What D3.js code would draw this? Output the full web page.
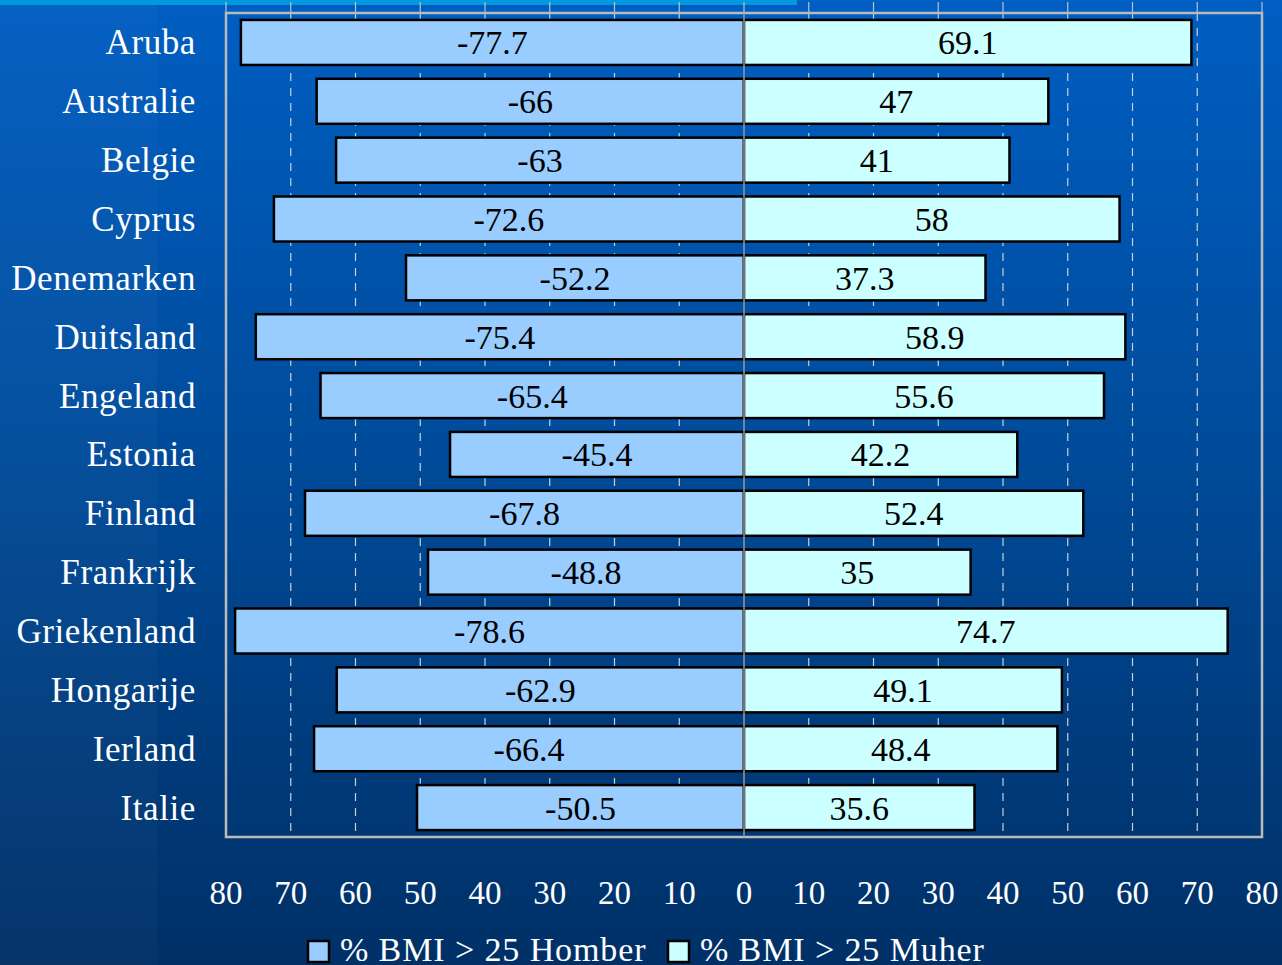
<!DOCTYPE html>
<html lang="en">
  <head>
    <meta charset="UTF-8" />
    <title>BMI &gt; 25</title>
    <style>
      body {
        margin: 0;
        overflow: hidden;
      }
      text {
        font-family: "Liberation Serif", "Times New Roman", serif;
      }
    </style>
  </head>
  <body>
    <div id="chart"></div>
    <script src="https://d3js.org/d3.v7.min.js"></script>
    <script>
      const countries = [
        "Aruba", "Australie", "Belgie", "Cyprus", "Denemarken", "Duitsland", "Engeland",
        "Estonia", "Finland", "Frankrijk", "Griekenland", "Hongarije", "Ierland", "Italie",
      ];
      const homber = [-77.7, -66, -63, -72.6, -52.2, -75.4, -65.4, -45.4, -67.8, -48.8, -78.6, -62.9, -66.4, -50.5];
      const muher = [69.1, 47, 41, 58, 37.3, 58.9, 55.6, 42.2, 52.4, 35, 74.7, 49.1, 48.4, 35.6];
      const ticks = [-80, -70, -60, -50, -40, -30, -20, -10, 0, 10, 20, 30, 40, 50, 60, 70, 80];
      const seriesNames = ["% BMI > 25 Homber", "% BMI > 25 Muher"];
      const colors = ["#99ccff", "#ccffff"];

      const width = 1282,
        height = 965;
      const plot = { left: 226, right: 1262, top: 13, bottom: 837 };

      const svg = d3
        .select("#chart")
        .append("svg")
        .attr("width", width)
        .attr("height", height);

      // background
      const defs = svg.append("defs");
      const grad = defs
        .append("linearGradient")
        .attr("id", "bg")
        .attr("x1", 0).attr("y1", 0).attr("x2", 0).attr("y2", 1);
      grad.append("stop").attr("offset", "0%").attr("stop-color", "#005ec2");
      grad.append("stop").attr("offset", "45%").attr("stop-color", "#004c9c");
      grad.append("stop").attr("offset", "100%").attr("stop-color", "#003066");

      svg.append("rect").attr("width", width).attr("height", height).attr("fill", "url(#bg)");
      svg.append("rect").attr("width", 157).attr("height", height).attr("fill", "#ffffff").attr("opacity", 0.025);
      svg.append("rect").attr("width", 797).attr("height", 5).attr("fill", "#0099dd");

      const x = d3.scaleLinear().domain([-80, 80]).range([plot.left, plot.right]);
      const y = d3
        .scaleBand()
        .domain(countries)
        .range([plot.top, plot.bottom])
        .paddingInner(0.235)
        .paddingOuter(0.1175);

      // gridlines
      svg
        .selectAll(".gridtop")
        .data(ticks)
        .enter()
        .append("line")
        .attr("x1", (d) => x(d))
        .attr("x2", (d) => x(d))
        .attr("y1", 2)
        .attr("y2", plot.top)
        .style("stroke", "#b8c4d0")
        .style("stroke-width", 1.2);

      svg
        .selectAll(".grid")
        .data(ticks.filter((d) => d !== 0 && Math.abs(d) !== 80))
        .enter()
        .append("line")
        .attr("x1", (d) => x(d))
        .attr("x2", (d) => x(d))
        .attr("y1", plot.top)
        .attr("y2", plot.bottom)
        .style("stroke", "#c8d0d8")
        .style("stroke-width", 1.2)
        .style("stroke-dasharray", "8,7");

      // plot border
      svg
        .append("rect")
        .attr("x", plot.left)
        .attr("y", plot.top)
        .attr("width", plot.right - plot.left)
        .attr("height", plot.bottom - plot.top)
        .attr("fill", "none")
        .attr("stroke", "#bbbbbb")
        .attr("stroke-width", 2.5);

      const rows = countries.map((c, i) => ({ c, h: homber[i], m: muher[i] }));

      // bars
      [["h", 0], ["m", 1]].forEach(([key, s]) => {
        svg
          .selectAll(".bar" + key)
          .data(rows)
          .enter()
          .append("rect")
          .attr("x", (d) => x(Math.min(0, d[key])))
          .attr("y", (d) => y(d.c))
          .attr("width", (d) => Math.abs(x(d[key]) - x(0)))
          .attr("height", y.bandwidth())
          .attr("fill", colors[s])
          .attr("stroke", "#000")
          .attr("stroke-width", 2.5);

        svg
          .selectAll(".lab" + key)
          .data(rows)
          .enter()
          .append("text")
          .attr("x", (d) => (x(d[key]) + x(0)) / 2)
          .attr("y", (d) => y(d.c) + y.bandwidth() / 2 + 12)
          .attr("text-anchor", "middle")
          .style("font-size", "34px")
          .style("fill", "#000")
          .text((d) => d[key]);
      });

      // zero line
      svg
        .append("line")
        .attr("x1", x(0))
        .attr("x2", x(0))
        .attr("y1", plot.top)
        .attr("y2", plot.bottom)
        .style("stroke", "#999999")
        .style("stroke-width", 1.5);

      // category labels
      svg
        .selectAll(".country")
        .data(countries)
        .enter()
        .append("text")
        .attr("x", 196)
        .attr("y", (d) => y(d) + y.bandwidth() / 2 + 12)
        .attr("text-anchor", "end")
        .style("font-size", "35px")
        .style("letter-spacing", "0.6px")
        .style("fill", "#fff")
        .text((d) => d);

      // x tick labels
      svg
        .selectAll(".tick")
        .data(ticks)
        .enter()
        .append("text")
        .attr("x", (d) => x(d))
        .attr("y", 904)
        .attr("text-anchor", "middle")
        .style("font-size", "33px")
        .style("fill", "#fff")
        .text((d) => Math.abs(d));

      // legend
      const legendX = [307, 667];
      seriesNames.forEach((name, i) => {
        svg
          .append("rect")
          .attr("x", legendX[i] + 1)
          .attr("y", 941)
          .attr("width", 21)
          .attr("height", 21)
          .attr("fill", colors[i])
          .attr("stroke", "#000")
          .attr("stroke-width", 2.5);
        svg
          .append("text")
          .attr("x", legendX[i] + 33)
          .attr("y", 961)
          .style("font-size", "34px")
          .style("letter-spacing", "0.9px")
          .style("fill", "#fff")
          .text(name);
      });
    </script>
  </body>
</html>
